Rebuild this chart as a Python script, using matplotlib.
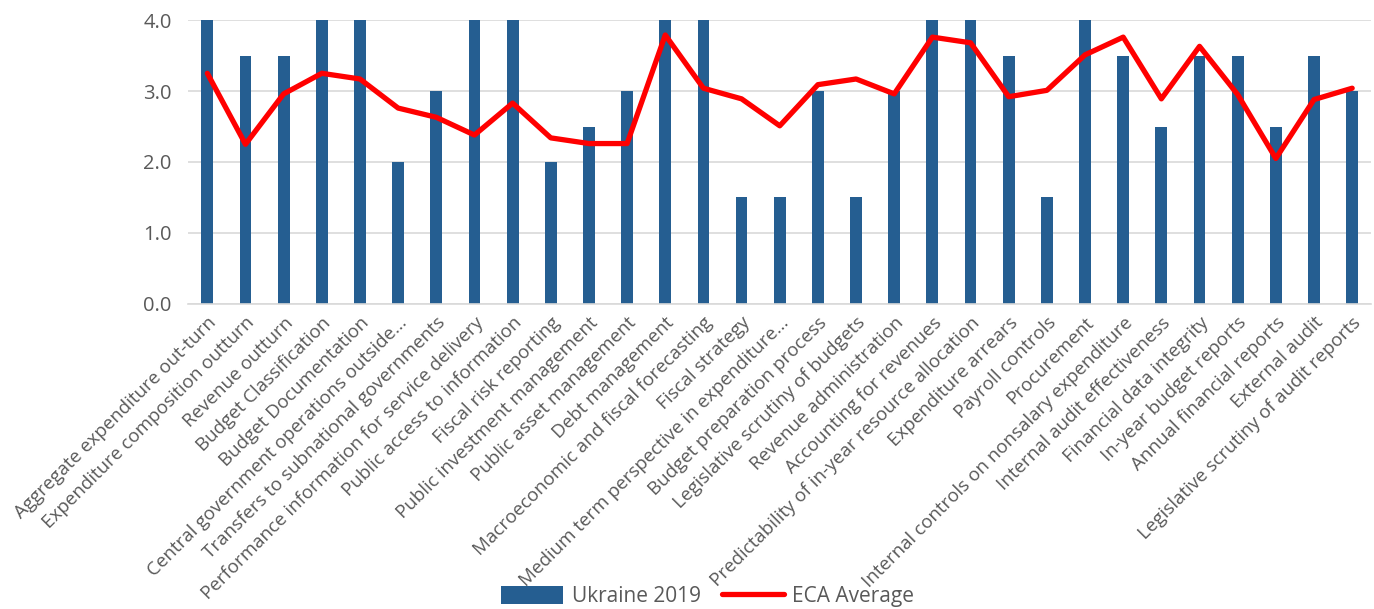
import matplotlib
matplotlib.use("Agg")
import matplotlib.pyplot as plt
import numpy as np

categories = [
    "Aggregate expenditure out-turn",
    "Expenditure composition outturn",
    "Revenue outturn",
    "Budget Classification",
    "Budget Documentation",
    "Central government operations outside...",
    "Transfers to subnational governments",
    "Performance information for service delivery",
    "Public access to information",
    "Fiscal risk reporting",
    "Public investment management",
    "Public asset management",
    "Debt management",
    "Macroeconomic and fiscal forecasting",
    "Fiscal strategy",
    "Medium term perspective in expenditure...",
    "Budget preparation process",
    "Legislative scrutiny of budgets",
    "Revenue administration",
    "Accounting for revenues",
    "Predictability of in-year resource allocation",
    "Expenditure arrears",
    "Payroll controls",
    "Procurement",
    "Internal controls on nonsalary expenditure",
    "Internal audit effectiveness",
    "Financial data integrity",
    "In-year budget reports",
    "Annual financial reports",
    "External audit",
    "Legislative scrutiny of audit reports",
]
ukraine_2019 = [4.0, 3.5, 3.5, 4.0, 4.0, 2.0, 3.0, 4.0, 4.0, 2.0, 2.5, 3.0, 4.0, 4.0, 1.5, 1.5,
                3.0, 1.5, 3.0, 4.0, 4.0, 3.5, 1.5, 4.0, 3.5, 2.5, 3.5, 3.5, 2.5, 3.5, 3.0]
eca_average = [3.25, 2.25, 2.96, 3.25, 3.17, 2.76, 2.63, 2.38, 2.83, 2.34, 2.26, 2.26, 3.79, 3.04,
               2.89, 2.51, 3.09, 3.17, 2.96, 3.76, 3.68, 2.92, 3.01, 3.51, 3.76, 2.89, 3.63, 2.95,
               2.05, 2.88, 3.04]
y_ticks = [0.0, 1.0, 2.0, 3.0, 4.0]

plt.rcParams['font.family'] = ['Open Sans', 'DejaVu Sans']

fig = plt.figure(figsize=(13.74, 6.09), dpi=100)
ax = fig.add_axes([0.137, 0.501, 0.861, 0.466])
x = np.arange(len(categories))
bars = ax.bar(x, ukraine_2019, width=0.31, color='#255e91', label='Ukraine 2019', zorder=2)
line, = ax.plot(x, eca_average, color='#ff0000', linewidth=3.8, label='ECA Average', zorder=3,
                solid_joinstyle='round', solid_capstyle='round')

ax.set_xlim(-0.5, len(categories) - 0.5)
ax.set_ylim(0, 4.0)
ax.set_yticks(y_ticks)
ax.set_yticklabels([f"{v:.1f}" for v in y_ticks], fontsize=14.5, color='#595959')
ax.set_xticks(x)
ax.set_xticklabels(categories, rotation=45, ha='right', rotation_mode='anchor',
                   fontsize=13.5, color='#595959')
ax.tick_params(axis='both', length=0)
ax.tick_params(axis='x', pad=7)
ax.tick_params(axis='y', pad=12)
ax.grid(axis='y', color='#d9d9d9', linewidth=1.2, zorder=0)
ax.set_axisbelow(True)
for s in ['top', 'right', 'left']:
    ax.spines[s].set_visible(False)
ax.spines['bottom'].set_color('#d9d9d9')
ax.spines['bottom'].set_linewidth(1.2)

fig.legend(handles=[bars, line], loc='lower center', bbox_to_anchor=(0.515, -0.028), ncol=2,
           frameon=False, fontsize=15, labelcolor='#595959', handlelength=3.0,
           handleheight=0.9, columnspacing=1.0, handletextpad=0.4)

fig.savefig('out.png', dpi=100)
